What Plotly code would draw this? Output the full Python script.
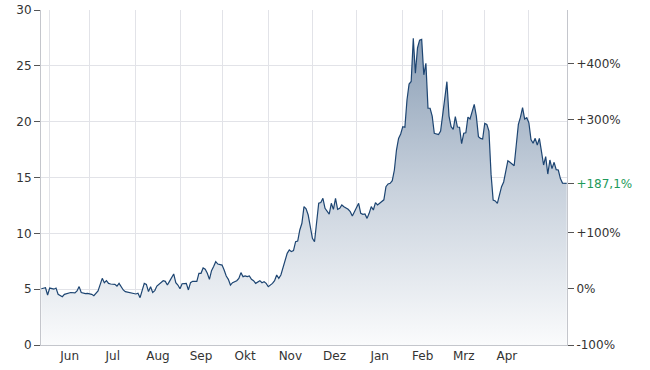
import plotly.graph_objects as go

# trading-day index of each reading
days = [0, 2, 3, 4, 6, 7, 8, 10, 11, 13, 14, 16, 17, 18, 19, 21, 22, 24, 25, 27,
        29, 30, 31, 32, 33, 35, 36, 37, 39, 40, 42, 44, 45, 46, 47, 49, 50, 51, 52, 53,
        54, 55, 57, 58, 59, 60, 61, 62, 63, 64, 65, 66, 67, 69, 70, 71, 72, 74, 75, 76,
        77, 78, 79, 80, 81, 82, 83, 84, 86, 87, 88, 89, 90, 91, 93, 94, 95, 96, 97, 98,
        99, 100, 101, 102, 104, 105, 106, 107, 108, 110, 111, 112, 113, 114, 115, 116, 117, 118, 119, 120,
        121, 122, 123, 124, 125, 126, 127, 128, 129, 130, 131, 132, 133, 134, 135, 136, 137, 138, 139, 140,
        141, 142, 143, 144, 146, 147, 148, 149, 150, 151, 152, 153, 154, 155, 156, 157, 158, 159, 160, 161,
        162, 163, 164, 165, 166, 167, 168, 169, 170, 171, 172, 173, 174, 175, 176, 177, 178, 179, 180, 181,
        182, 183, 184, 185, 186, 187, 188, 189, 190, 191, 192, 193, 194, 195, 196, 197, 198, 199, 200, 201,
        202, 203, 204, 205, 206, 207, 208, 209, 210, 211, 212, 213, 214, 215, 216, 217, 218, 219, 220, 221,
        222, 223, 224, 225, 226, 227, 228, 229, 230, 231, 232, 233, 234, 235, 236, 237, 238, 239, 240, 241,
        242, 243, 244, 245, 246, 247, 248, 249, 250]

prices = [5.04, 5.13, 4.48, 5.10, 5.00, 5.10, 4.54, 4.33, 4.54, 4.63, 4.70, 4.66, 4.84, 5.23, 4.70, 4.60, 4.63, 4.54, 4.42, 4.84,
          5.97, 5.58, 5.76, 5.52, 5.46, 5.43, 5.28, 5.52, 4.93, 4.78, 4.72, 4.63, 4.57, 4.63, 4.24, 5.52, 5.43, 4.78, 5.22, 4.70,
          4.87, 5.28, 5.58, 5.76, 5.70, 5.37, 5.70, 6.06, 6.36, 5.58, 5.37, 5.04, 5.49, 5.52, 4.93, 5.58, 5.70, 5.70, 6.42, 6.42,
          6.90, 6.78, 6.42, 5.88, 6.66, 7.02, 7.46, 7.25, 7.16, 6.72, 6.18, 5.88, 5.37, 5.58, 5.76, 5.97, 6.48, 6.12, 6.18, 6.12,
          6.18, 5.88, 5.76, 5.52, 5.76, 5.58, 5.67, 5.52, 5.22, 5.52, 5.76, 6.27, 5.97, 6.27, 6.87, 7.61, 8.21, 8.51, 8.36, 8.45,
          9.25, 9.31, 10.30, 10.90, 12.39, 12.20, 11.64, 10.60, 9.55, 9.25, 10.80, 12.69, 12.75, 13.14, 12.24, 11.94, 11.73, 12.69, 12.15, 13.14,
          12.15, 12.24, 12.54, 12.39, 12.15, 11.94, 11.55, 11.94, 12.39, 12.69, 11.79, 11.70, 11.73, 11.34, 11.79, 12.39, 12.09, 12.75, 12.54, 12.70,
          12.84, 13.00, 14.18, 14.42, 14.48, 14.72, 15.67, 17.46, 18.50, 18.90, 19.55, 19.50, 21.94, 23.37, 23.60, 27.46, 24.33, 26.60, 27.30, 27.37,
          24.20, 25.22, 21.20, 21.20, 20.50, 18.96, 18.90, 18.85, 19.15, 20.50, 22.30, 23.58, 20.50, 19.55, 19.30, 20.45, 19.52, 19.50, 18.03, 18.96,
          19.00, 20.40, 20.25, 21.00, 21.55, 20.50, 18.66, 18.50, 18.45, 19.85, 19.76, 19.16, 15.30, 12.98, 12.90, 12.69, 13.44, 14.18, 14.60, 15.67,
          16.50, 16.36, 16.18, 16.06, 17.91, 19.76, 20.40, 21.25, 20.24, 20.36, 19.90, 18.40, 18.06, 18.51, 17.91, 18.50, 17.31, 16.12, 16.87, 15.31,
          16.57, 15.80, 16.36, 15.70, 15.67, 14.90, 14.50, 14.47, 14.47]

month_starts = [4, 23, 45, 66, 86, 108, 129, 150, 172, 191, 211, 232]
month_labels = ["Jun", "Jul", "Aug", "Sep", "Okt", "Nov", "Dez", "Jan", "Feb", "Mrz", "Apr"]
price_ticks = [0, 5, 10, 15, 20, 25, 30]
grid_ticks = [5, 10, 15, 20, 25]
pct_ticks = [-100, 0, 100, 300, 400]

base = prices[0]
pct = [(p / base - 1) * 100 for p in prices]
last_pct = pct[-1]
y_max = 30
pct_max = (y_max / base - 1) * 100

label_pos = [(a + b) / 2 for a, b in zip(month_starts[:-1], month_starts[1:])]


def fmt_pct(v):
    if v > 0:
        return "+%d%%" % v
    return "%d%%" % v


green = "#1e9a5a"
pct_vals = pct_ticks + [last_pct]
pct_text = [fmt_pct(v) for v in pct_ticks] + [
    '<span style="color:%s">+%s%%</span>' % (green, ("%.1f" % last_pct).replace(".", ","))]

fig = go.Figure()
fig.add_trace(go.Scatter(
    x=days, y=prices, mode="lines",
    line=dict(color="#1d4572", width=1.2),
    fill="tozeroy",
    fillgradient=dict(type="vertical", start=0, stop=27.5,
                      colorscale=[[0, "#fafbfc"], [0.5, "#c9d2dd"], [1, "#8b9fb6"]]),
    hoverinfo="skip", showlegend=False,
))
fig.add_trace(go.Scatter(
    x=days, y=pct, mode="lines", yaxis="y2",
    line=dict(width=0, color="rgba(0,0,0,0)"),
    hoverinfo="skip", showlegend=False,
))

font = dict(family="DejaVu Sans", size=12, color="#333333")
grid = "#e2e3e8"
axis_line = "#c4c6cc"

fig.update_layout(
    width=650, height=370,
    margin=dict(l=41, r=83, t=10, b=25, autoexpand=False),
    paper_bgcolor="white", plot_bgcolor="white",
    font=font,
    xaxis=dict(
        range=[-0.14, 250.14], automargin=False,
        tickmode="array", tickvals=label_pos, ticktext=month_labels,
        showgrid=False, ticks="", zeroline=False,
        showline=True, linecolor=axis_line, linewidth=1,
        minor=dict(tickmode="array", tickvals=month_starts, showgrid=True,
                   gridcolor=grid, gridwidth=1, ticks=""),
        tickfont=font,
    ),
    yaxis=dict(
        range=[0, y_max], automargin=False,
        tickmode="array", tickvals=price_ticks,
        showgrid=False,
        ticks="outside", ticklen=6, tickcolor="#555555",
        zeroline=False, showline=True, linecolor=axis_line, linewidth=1,
        minor=dict(tickmode="array", tickvals=grid_ticks, showgrid=True,
                   gridcolor=grid, gridwidth=1, ticks=""),
        tickfont=font,
    ),
    yaxis2=dict(
        range=[-100, pct_max], overlaying="y", side="right", anchor="x", automargin=False,
        tickmode="array", tickvals=pct_vals, ticktext=pct_text,
        showgrid=False, zeroline=False,
        ticks="outside", ticklen=6, tickcolor="#555555",
        showline=True, linecolor=axis_line, linewidth=1,
        tickfont=font,
    ),
)

fig.write_html("out.html")
